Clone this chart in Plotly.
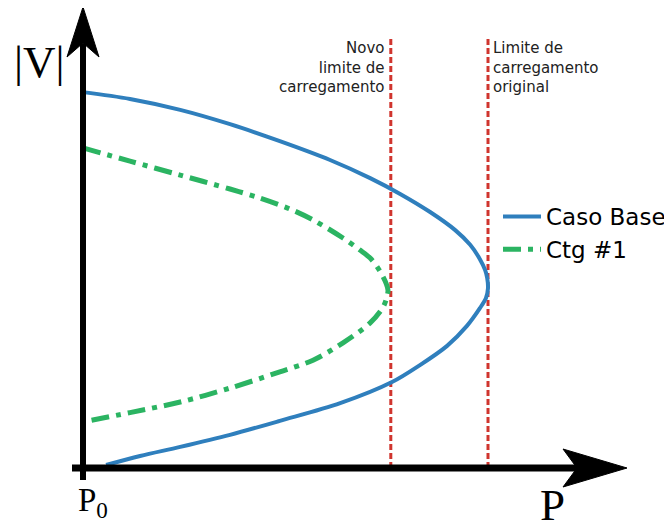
import plotly.graph_objects as go

# ---- data (normalised: P relative to original loading limit, V relative to base-case |V| at P0)
base_P = [0.0, 0.116, 0.240, 0.363, 0.486, 0.610, 0.709, 0.783, 0.857, 0.919, 0.956, 0.980, 0.993, 0.998, 1.0,
          0.995, 0.980, 0.948, 0.899, 0.832, 0.763, 0.635, 0.486, 0.363, 0.240, 0.141, 0.057]
base_V = [0.997, 0.979, 0.950, 0.912, 0.867, 0.817, 0.769, 0.727, 0.679, 0.631, 0.592, 0.554, 0.525, 0.504, 0.477,
          0.451, 0.424, 0.377, 0.324, 0.273, 0.228, 0.172, 0.125, 0.088, 0.056, 0.032, 0.008]

ctg_P = [0.0, 0.116, 0.240, 0.363, 0.437, 0.511, 0.568, 0.642, 0.684, 0.709, 0.728, 0.741, 0.749, 0.753,
         0.751, 0.741, 0.709, 0.642, 0.568, 0.486, 0.363, 0.240, 0.116, 0.0]
ctg_V = [0.849, 0.814, 0.777, 0.740, 0.716, 0.687, 0.658, 0.610, 0.578, 0.557, 0.531, 0.507, 0.488, 0.472,
         0.456, 0.427, 0.385, 0.332, 0.286, 0.255, 0.212, 0.175, 0.147, 0.122]

limit_new = 0.760
limit_orig = 1.0
limit_top = 1.141

series_names = ["Caso Base", "Ctg #1"]
label_new = "Novo<br>limite de<br>carregamento"
label_orig = "Limite de<br>carregamento<br>original"

# ---- layout geometry (page pixels; the page body adds an 8px offset)
OFF = 8
W, H = 672 - OFF, 522 - OFF
X0PX, Y0PX = 83, 468          # page pixel position of the origin
SX, SY = 405, 377             # pixels per unit


def dx(px):
    return (px - X0PX) / SX


def dy(py):
    return (Y0PX - py) / SY


xr = [dx(OFF), dx(672)]
yr = [dy(522), dy(OFF)]

BLUE = "#2f7fbd"
GREEN = "#2bb462"
RED = "#d0352e"

fig = go.Figure()

for lim in (limit_new, limit_orig):
    fig.add_trace(go.Scatter(x=[lim, lim], y=[0, limit_top], mode="lines",
                             line=dict(color=RED, width=3, dash="6px,3px"),
                             showlegend=False, hoverinfo="skip"))

fig.add_trace(go.Scatter(x=base_P, y=base_V, mode="lines", name=series_names[0],
                         line=dict(color=BLUE, width=4, shape="spline", smoothing=0.9)))
fig.add_trace(go.Scatter(x=ctg_P, y=ctg_V, mode="lines", name=series_names[1],
                         line=dict(color=GREEN, width=5, shape="spline", smoothing=0.9,
                                   dash="18px,7px,5px,7px")))


def path(points):
    return "M " + " L ".join(f"{dx(a)},{dy(b)}" for a, b in points) + " Z"


shapes = [
    dict(type="line", xref="x", yref="y", x0=dx(72), x1=dx(578), y0=0, y1=0,
         line=dict(color="black", width=7)),
    dict(type="line", xref="x", yref="y", x0=0, x1=0, y0=dy(480), y1=dy(44),
         line=dict(color="black", width=6)),
    dict(type="path", xref="x", yref="y",
         path=path([(627, 468), (563, 449), (577, 468), (563, 487)]),
         fillcolor="black", line=dict(color="black", width=1)),
    dict(type="path", xref="x", yref="y",
         path=path([(83, 7), (99, 57), (83, 43), (67, 57)]),
         fillcolor="black", line=dict(color="black", width=1)),
]

serif = "Liberation Serif, Times New Roman, serif"
sans = "DejaVu Sans, Verdana, sans-serif"


def ann(text, px, py, size, family, xanchor="center", yanchor="middle", align="left", color="black"):
    return dict(text=text, x=(px - OFF) / W, y=1 - (py - OFF) / H, xref="paper", yref="paper",
                xanchor=xanchor, yanchor=yanchor, align=align, showarrow=False,
                font=dict(family=family, size=size, color=color))


annotations = [
    ann("|V|", 39, 62, 45, serif),
    ann("P", 552, 505, 45, serif),
    ann("P<sub>0</sub>", 76, 502, 33, serif, xanchor="left"),
    ann(label_new, 387, 37, 15, sans, xanchor="right", yanchor="top", align="right", color="#222"),
    ann(label_orig, 491, 37, 15, sans, xanchor="left", yanchor="top", align="left", color="#222"),
]

fig.update_layout(
    width=W, height=H,
    margin=dict(l=0, r=0, t=0, b=0),
    paper_bgcolor="white", plot_bgcolor="white",
    xaxis=dict(range=xr, visible=False, fixedrange=True),
    yaxis=dict(range=yr, visible=False, fixedrange=True),
    shapes=shapes, annotations=annotations,
    showlegend=True,
    legend=dict(x=(498 - OFF) / W, y=1 - (195 - OFF) / H, xanchor="left", yanchor="top",
                font=dict(family=sans, size=23, color="black"),
                bgcolor="rgba(0,0,0,0)", itemwidth=38, tracegroupgap=0),
)

fig.write_html("out.html")
